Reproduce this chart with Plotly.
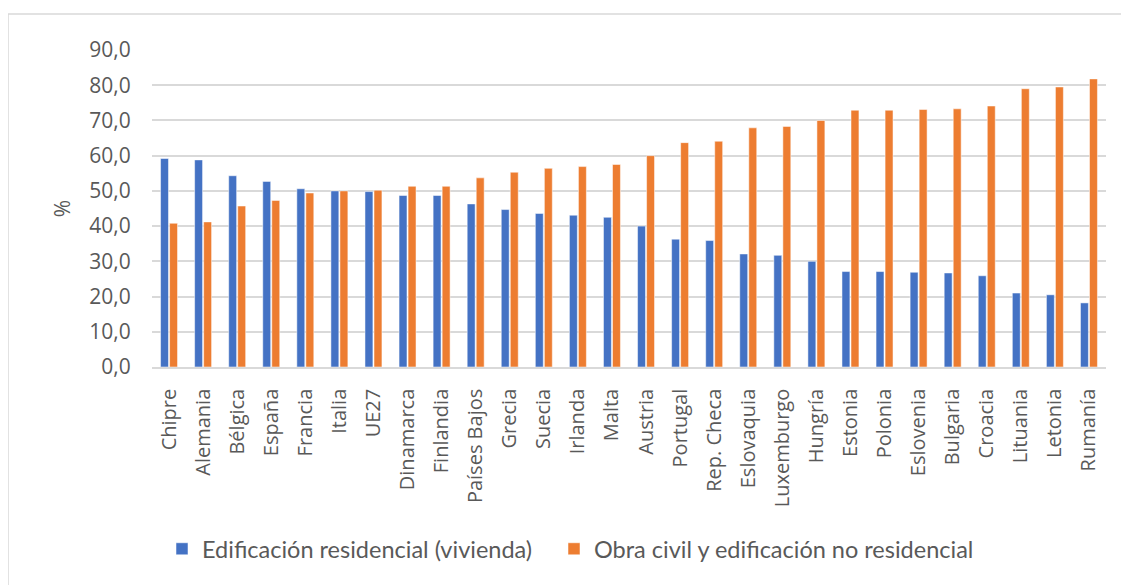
import plotly.graph_objects as go

countries = ["Chipre", "Alemania", "Bélgica", "España", "Francia", "Italia", "UE27",
             "Dinamarca", "Finlandia", "Países Bajos", "Grecia", "Suecia", "Irlanda",
             "Malta", "Austria", "Portugal", "Rep. Checa", "Eslovaquia", "Luxemburgo",
             "Hungría", "Estonia", "Polonia", "Eslovenia", "Bulgaria", "Croacia",
             "Lituania", "Letonia", "Rumanía"]
residencial = [59.2, 58.8, 54.3, 52.7, 50.6, 50.0, 49.8, 48.7, 48.7, 46.3, 44.7, 43.6,
               43.1, 42.5, 40.0, 36.3, 35.9, 32.1, 31.7, 30.0, 27.1, 27.1, 26.9, 26.7,
               25.9, 21.0, 20.5, 18.2]
no_residencial = [40.8, 41.2, 45.7, 47.3, 49.4, 50.0, 50.2, 51.3, 51.3, 53.7, 55.3, 56.4,
                  56.9, 57.5, 60.0, 63.7, 64.1, 67.9, 68.3, 70.0, 72.9, 72.9, 73.1, 73.3,
                  74.1, 79.0, 79.5, 81.8]
yticks = [0, 10, 20, 30, 40, 50, 60, 70, 80, 90]
ytick_text = ["0,0", "10,0", "20,0", "30,0", "40,0", "50,0", "60,0", "70,0", "80,0", "90,0"]
names = ["Edificación residencial (vivienda)", "Obra civil y edificación no residencial"]

BLUE = "#4472C4"
ORANGE = "#ED7D31"
GRID = "#D9D9D9"
TXT = "#595959"

fig = go.Figure()
fig.add_trace(go.Bar(x=countries, y=residencial, name=names[0], legend="legend",
                     marker=dict(color=BLUE, line=dict(color="rgba(255,255,255,0.5)", width=1))))
fig.add_trace(go.Bar(x=countries, y=no_residencial, name=names[1], legend="legend2",
                     marker=dict(color=ORANGE, line=dict(color="rgba(255,255,255,0.5)", width=1))))

OFF = 8  # default body margin of the page
SW, SH = 1129, 585
W, H = SW - OFF, SH - OFF
# plot area in screen pixels
PL, PR, PT, PB = 152, 1106, 50, 367
L, R, T, B = PL - OFF, SW - PR, PT - OFF, SH - PB
pw, ph = PR - PL, PB - PT

def px_x(x):
    return (x - PL) / pw

def px_y(y):
    return (PB - y) / ph

leg_common = dict(orientation="h", xanchor="left", y=px_y(549), yanchor="middle",
                  font=dict(family="Lato", size=23.5, color=TXT), itemwidth=30,
                  bgcolor="rgba(0,0,0,0)")

fig.update_layout(
    width=W, height=H,
    margin=dict(l=L, r=R, t=T, b=B, pad=0),
    paper_bgcolor="white", plot_bgcolor="white",
    barmode="group", bargap=0.47, bargroupgap=0.12,
    font=dict(family="Open Sans", size=20, color=TXT),
    showlegend=True,
    legend=dict(x=px_x(162), **leg_common),
    legend2=dict(x=px_x(554), **leg_common),
    xaxis=dict(showgrid=False, showline=True, linecolor=GRID, linewidth=1.5,
               tickangle=-90, ticks="outside", ticklen=12, tickcolor="rgba(0,0,0,0)",
               tickfont=dict(family="Open Sans", size=20, color=TXT), fixedrange=True),
    yaxis=dict(range=[0, 90], tickvals=yticks, ticktext=ytick_text,
               showgrid=True, gridcolor=GRID, gridwidth=1.5, zeroline=False,
               ticks="outside", ticklen=16, tickcolor="rgba(0,0,0,0)",
               tickfont=dict(family="Open Sans", size=21, color=TXT),
               title=dict(text="%", font=dict(family="Open Sans", size=21, color=TXT), standoff=12)),
    shapes=[
        dict(type="line", xref="paper", yref="paper", x0=px_x(8), x1=px_x(8),
             y0=px_y(14), y1=px_y(600), line=dict(color=GRID, width=1.5)),
        dict(type="line", xref="paper", yref="paper", x0=px_x(8), x1=px_x(1140),
             y0=px_y(14), y1=px_y(14), line=dict(color=GRID, width=1.5)),
    ],
)

fig.write_html("out.html")
